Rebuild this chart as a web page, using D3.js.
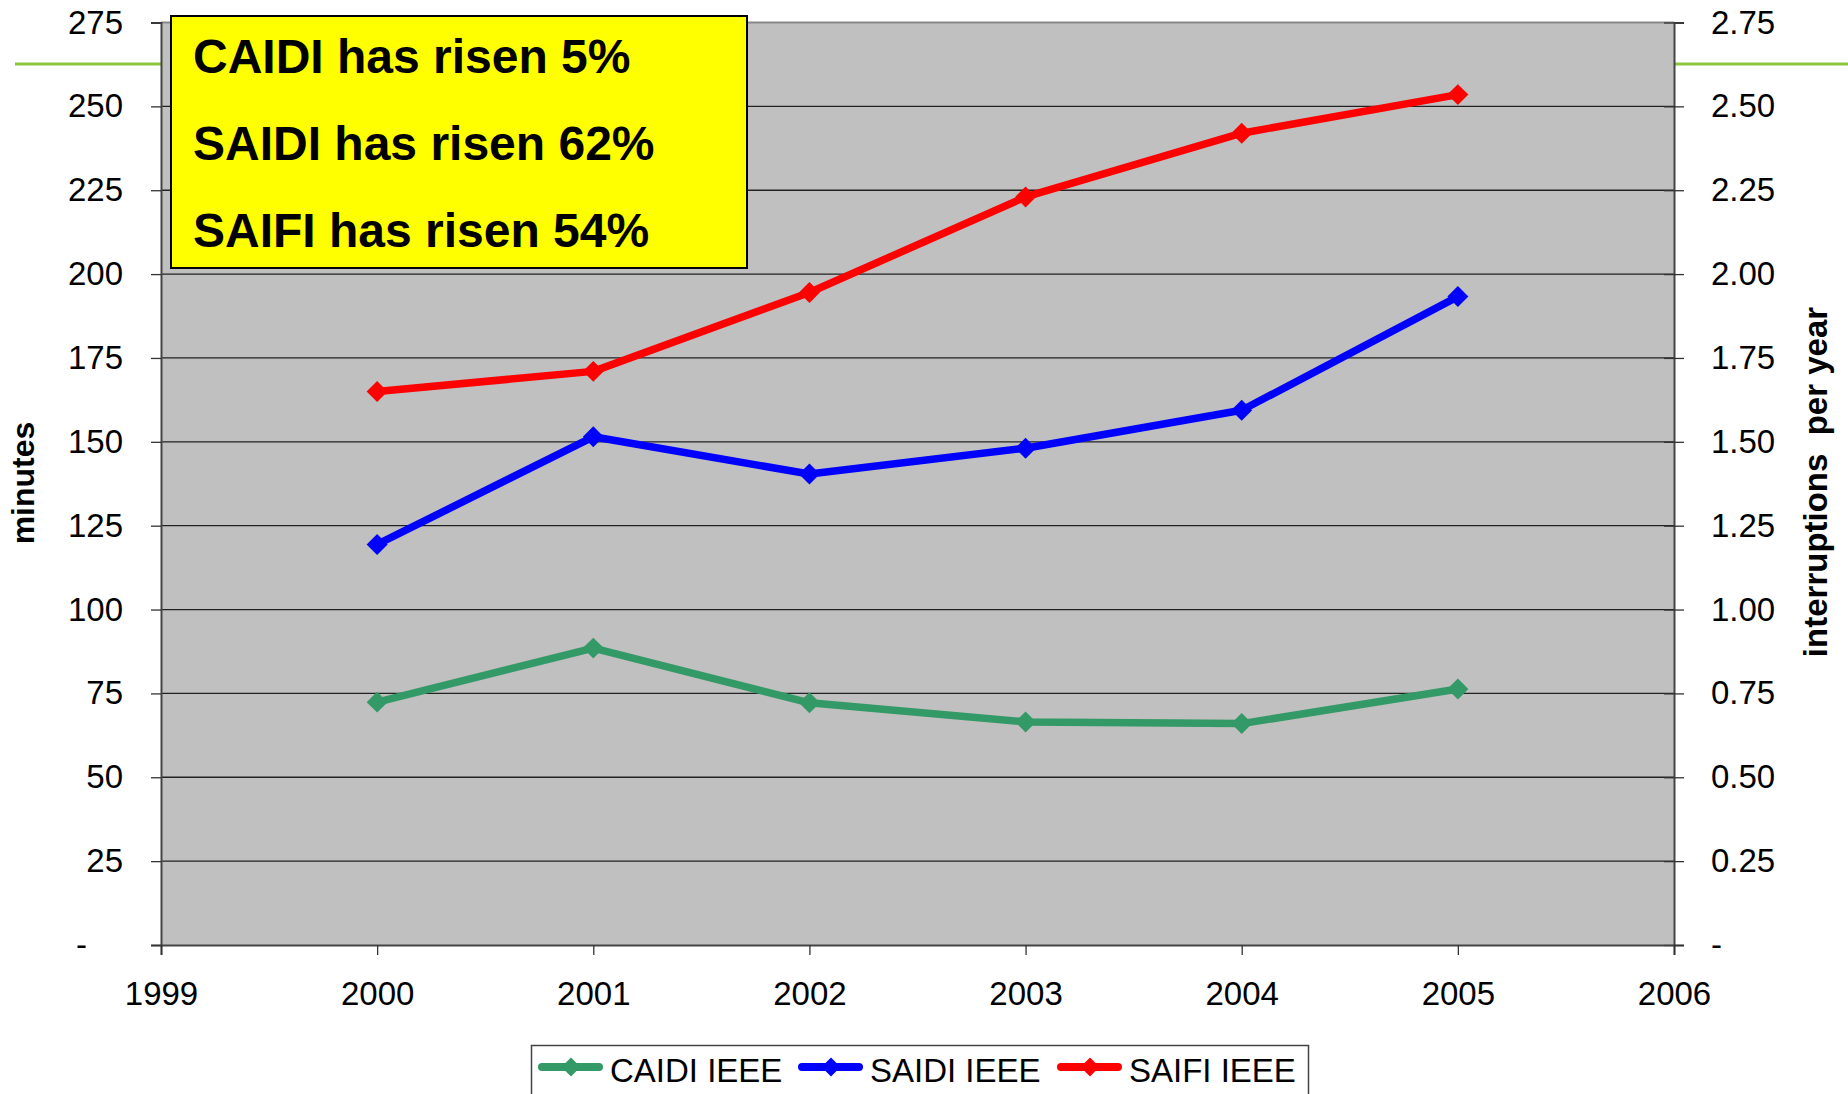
<!DOCTYPE html>
<html lang="en">
<head>
<meta charset="utf-8">
<title>CAIDI / SAIDI / SAIFI</title>
<script src="https://d3js.org/d3.v7.min.js"></script>
<style>
  body { margin: 0; background: #fff; }
  svg { display: block; font-family: Arial, "Liberation Sans", sans-serif; }
</style>
</head>
<body>
<svg width="1848" height="1094"></svg>
<script>

// data
var years = [2000, 2001, 2002, 2003, 2004, 2005];
var caidi = [72.4, 88.5, 72.2, 66.5, 66.0, 76.3];      // minutes
var saidi = [119.4, 151.5, 140.4, 148.1, 159.4, 193.3]; // minutes
var saifi = [1.65, 1.71, 1.945, 2.23, 2.42, 2.535];    // interruptions per year
var leftTicks = [0, 25, 50, 75, 100, 125, 150, 175, 200, 225, 250, 275];
var rightTicks = [0, 0.25, 0.5, 0.75, 1, 1.25, 1.5, 1.75, 2, 2.25, 2.5, 2.75];
var xTicks = [1999, 2000, 2001, 2002, 2003, 2004, 2005, 2006];
var notes = ["CAIDI has risen 5%", "SAIDI has risen 62%", "SAIFI has risen 54%"];

var series = [
  {name: "CAIDI IEEE", values: caidi, color: "#339966", axis: "left"},
  {name: "SAIDI IEEE", values: saidi, color: "#0000ff", axis: "left"},
  {name: "SAIFI IEEE", values: saifi, color: "#ff0000", axis: "right"}
];

var svg = d3.select("svg");

// plot box (window.top is reserved, hence the names)
var pLeft = 161, pRight = 1674, pTop = 22.5, pBottom = 945;

var x = d3.scaleLinear().domain([1999, 2006]).range([pLeft, pRight]);
var yL = d3.scaleLinear().domain([0, 275]).range([pBottom, pTop]);
var yR = d3.scaleLinear().domain([0, 2.75]).range([pBottom, pTop]);

// green slide rule lines behind the chart
svg.append("line").attr("x1", 15).attr("x2", pLeft).attr("y1", 64).attr("y2", 64)
    .attr("stroke", "#8cc63f").attr("stroke-width", 3);
svg.append("line").attr("x1", pRight).attr("x2", 1848).attr("y1", 64).attr("y2", 64)
    .attr("stroke", "#8cc63f").attr("stroke-width", 3);

// plot area
svg.append("rect")
    .attr("x", pLeft).attr("y", pTop)
    .attr("width", pRight - pLeft).attr("height", pBottom - pTop)
    .attr("fill", "#c0c0c0");

// gridlines
svg.append("g").selectAll("line")
    .data(leftTicks.slice(1))
    .enter().append("line")
    .attr("x1", pLeft).attr("x2", pRight)
    .attr("y1", function(d) { return yL(d); })
    .attr("y2", function(d) { return yL(d); })
    .attr("stroke", function(d) { return d == 275 ? "#888" : "#222"; })
    .attr("stroke-width", function(d) { return d == 275 ? 2 : 1.3; });

// axes
var axisFont = 33;

var gL = svg.append("g").attr("transform", "translate(" + pLeft + ",0)")
    .call(d3.axisLeft(yL).tickValues(leftTicks).tickSize(10).tickPadding(28)
        .tickFormat(function(d) { return d == 0 ? "-" : d; }));

var gR = svg.append("g").attr("transform", "translate(" + pRight + ",0)")
    .call(d3.axisRight(yR).tickValues(rightTicks).tickSize(10).tickPadding(27)
        .tickFormat(function(d) { return d == 0 ? "-" : d3.format(".2f")(d); }));

var gX = svg.append("g").attr("transform", "translate(0," + pBottom + ")")
    .call(d3.axisBottom(x).tickValues(xTicks).tickSize(10).tickPadding(27)
        .tickFormat(d3.format("d")));

[gL, gR, gX].forEach(function(g) {
  g.select(".domain").attr("stroke", "#444").attr("stroke-width", 2);
  g.selectAll(".tick line").attr("stroke", "#333").attr("stroke-width", 1.3);
  g.selectAll(".tick text").attr("fill", "#000")
      .style("font-size", axisFont + "px").style("font-family", "Arial, 'Liberation Sans', sans-serif");
});
// inward tick stubs on the right axis
gR.selectAll(".tick line").attr("x1", -10);
// accounting style dash for zero on the left
gL.selectAll(".tick text").filter(function(d) { return d == 0; }).attr("x", -74);

// axis titles
svg.append("text")
    .attr("transform", "translate(34,483) rotate(-90)")
    .attr("text-anchor", "middle")
    .style("font-size", "32px").style("font-weight", "bold")
    .text("minutes");

svg.append("text")
    .attr("transform", "translate(1827,482) rotate(-90)")
    .attr("text-anchor", "middle")
    .attr("xml:space", "preserve")
    .style("white-space", "pre")
    .style("font-size", "33px").style("font-weight", "bold")
    .text("interruptions  per year");

// lines with diamond markers
series.forEach(function(s) {
  var y = s.axis == "left" ? yL : yR;
  var pts = years.map(function(yr, i) { return [x(yr), y(s.values[i])]; });
  svg.append("path")
      .attr("d", d3.line()(pts))
      .attr("fill", "none")
      .attr("stroke", s.color)
      .attr("stroke-width", 7.5)
      .attr("stroke-linejoin", "round");
  svg.append("g").selectAll("path")
      .data(pts)
      .enter().append("path")
      .attr("d", d3.symbol().type(d3.symbolSquare).size(220))
      .attr("transform", function(p) { return "translate(" + p[0] + "," + p[1] + ") rotate(45)"; })
      .attr("fill", s.color);
});

// yellow note box
svg.append("rect")
    .attr("x", 171).attr("y", 16)
    .attr("width", 576).attr("height", 252)
    .attr("fill", "#ffff00")
    .attr("stroke", "#000")
    .attr("stroke-width", 2);

svg.append("g").selectAll("text")
    .data(notes)
    .enter().append("text")
    .attr("x", 193)
    .attr("y", function(d, i) { return 73 + i * 87; })
    .style("font-size", "48px").style("font-weight", "bold")
    .text(function(d) { return d; });

// legend
svg.append("rect")
    .attr("x", 531.5).attr("y", 1045.5)
    .attr("width", 777).attr("height", 80)
    .attr("fill", "#fff")
    .attr("stroke", "#444").attr("stroke-width", 1.5);

var legendX = [538, 798, 1057];
var lg = svg.append("g").selectAll("g")
    .data(series)
    .enter().append("g")
    .attr("transform", function(d, i) { return "translate(" + legendX[i] + ",1067)"; });

lg.append("line")
    .attr("x1", 4).attr("x2", 61)
    .attr("stroke", function(d) { return d.color; })
    .attr("stroke-width", 8)
    .attr("stroke-linecap", "round");
lg.append("path")
    .attr("d", d3.symbol().type(d3.symbolSquare).size(180))
    .attr("transform", "translate(33,0) rotate(45)")
    .attr("fill", function(d) { return d.color; });
lg.append("text")
    .attr("x", 72)
    .attr("y", 15)
    .style("font-size", "33px")
    .text(function(d) { return d.name; });

</script>
</body>
</html>
